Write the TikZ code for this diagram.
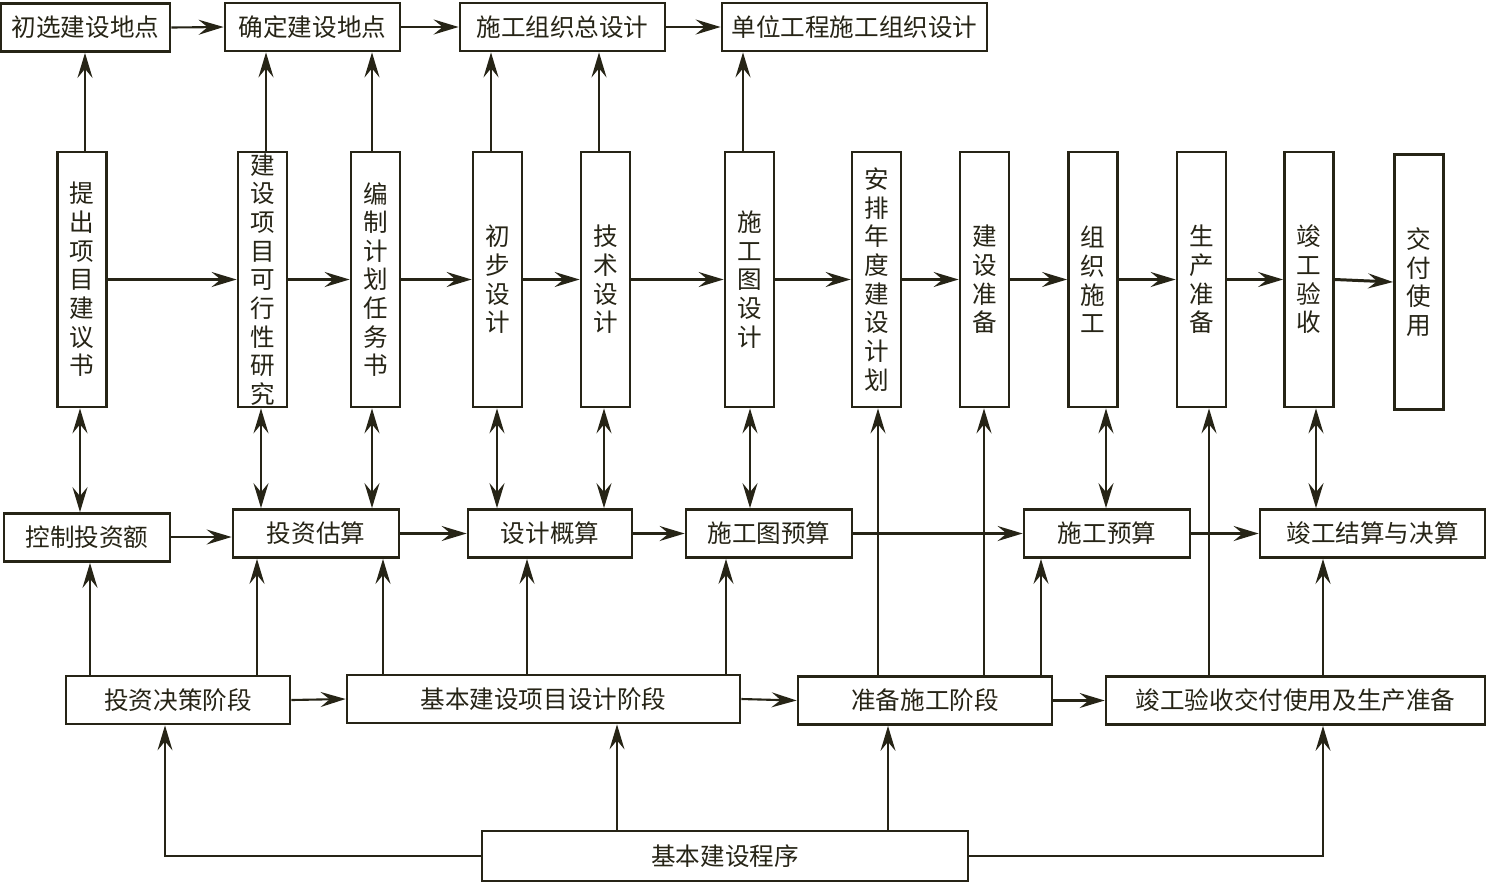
\documentclass[tikz,border=0pt]{standalone}
\usepackage{fontspec}
\setmainfont{Noto Sans CJK SC}
\usetikzlibrary{arrows.meta}
\definecolor{ink}{RGB}{38,36,22}
\begin{document}
\begin{tikzpicture}[x=0.02cm,y=-0.02cm,
  box/.style={draw=ink, line width=1.6pt, minimum height=0.96cm, inner sep=0pt, text=ink,
    font=\fontsize{14}{16}\selectfont},
  vbox/.style={box, minimum width=0.98cm, minimum height=5.1cm, align=center,
    font=\fontsize{14}{16.3}\selectfont},
  tip/.tip={Stealth[length=0.5cm,width=0.3cm,inset=0.18cm]},
  arr/.style={draw=ink, line width=1.2pt, -tip},
  darr/.style={draw=ink, line width=1.2pt, tip-tip},
  thin/.style={line width=0.8pt}]
\useasboundingbox[fill=white] (0,0) rectangle (1487,883);
% top row
\node[box,minimum width=3.38cm] (t1) at (85.5,27.5) {初选建设地点};
\node[box,minimum width=3.5cm] (t2) at (312.5,27) {确定建设地点};
\node[box,minimum width=4.1cm] (t3) at (562.5,27) {施工组织总设计};
\node[box,minimum width=5.3cm] (t4) at (854.5,27) {单位工程施工组织设计};
% vertical boxes
\node[vbox] (v1) at (82,279.5) {提\\出\\项\\目\\建\\议\\书};
\node[vbox] (v2) at (262.5,279.5) {建\\设\\项\\目\\可\\行\\性\\研\\究};
\node[vbox] (v3) at (375.5,279.5) {编\\制\\计\\划\\任\\务\\书};
\node[vbox] (v4) at (497.5,279.5) {初\\步\\设\\计};
\node[vbox] (v5) at (605.5,279.5) {技\\术\\设\\计};
\node[vbox] (v6) at (749.5,279.5) {施\\工\\图\\设\\计};
\node[vbox] (v7) at (876.5,279.5) {安\\排\\年\\度\\建\\设\\计\\划};
\node[vbox] (v8) at (984.5,279.5) {建\\设\\准\\备};
\node[vbox] (v9) at (1093,279.5) {组\\织\\施\\工};
\node[vbox] (v10) at (1201.5,279.5) {生\\产\\准\\备};
\node[vbox] (v11) at (1309,279.5) {竣\\工\\验\\收};
\node[vbox] (v12) at (1419,282) {交\\付\\使\\用};
% middle row
\node[box,minimum width=3.32cm] (m1) at (87,537.5) {控制投资额};
\node[box,minimum width=3.32cm] (m2) at (316,533.5) {投资估算};
\node[box,minimum width=3.28cm] (m3) at (550,533.5) {设计概算};
\node[box,minimum width=3.32cm] (m4) at (769,533.5) {施工图预算};
\node[box,minimum width=3.32cm] (m5) at (1107,533.5) {施工预算};
\node[box,minimum width=4.5cm] (m6) at (1372.5,533.5) {竣工结算与决算};
% phase row
\node[box,minimum width=4.48cm] (p1) at (178,700) {投资决策阶段};
\node[box,minimum width=7.86cm] (p2) at (543.5,699) {基本建设项目设计阶段};
\node[box,minimum width=5.08cm] (p3) at (925,700.5) {准备施工阶段};
\node[box,minimum width=7.58cm] (p4) at (1295.5,700.5) {竣工验收交付使用及生产准备};
% bottom
\node[box,minimum width=9.72cm,minimum height=1.0cm] (b) at (725,856) {基本建设程序};

% top connectors
\draw[arr,line width=1.5pt] (v1.north -| 85,0) -- (t1.south -| 85,0);
\draw[arr] (v2.north -| 266,0) -- (t2.south -| 266,0);
\draw[arr,line width=1.5pt] (v3.north -| 372,0) -- (t2.south -| 372,0);
\draw[arr] (v4.north -| 491,0) -- (t3.south -| 491,0);
\draw[arr] (v5.north -| 599,0) -- (t3.south -| 599,0);
\draw[arr,line width=1.5pt] (v6.north -| 743,0) -- (t4.south -| 743,0);
\draw[arr] (t1.east) -- (t2.west);
\draw[arr,line width=1.5pt] (t2.east) -- (t3.west);
\draw[arr,line width=1.5pt] (t3.east) -- (t4.west);
% vertical row chain
\draw[arr,line width=1.5pt] (v1.east) -- (v2.west);
\draw[arr,line width=1.5pt] (v2.east) -- (v3.west);
\draw[arr] (v3.east) -- (v4.west);
\draw[arr] (v4.east) -- (v5.west);
\draw[arr] (v5.east) -- (v6.west);
\draw[arr] (v6.east) -- (v7.west);
\draw[arr] (v7.east) -- (v8.west);
\draw[arr] (v8.east) -- (v9.west);
\draw[arr,line width=1.5pt] (v9.east) -- (v10.west);
\draw[arr] (v10.east) -- (v11.west);
\draw[arr,line width=1.7pt] (v11.east) -- (v12.west);
% double arrows
\draw[darr] (v1.south -| 80,0) -- (m1.north -| 80,0);
\draw[darr] (v2.south -| 261,0) -- (m2.north -| 261,0);
\draw[darr] (v3.south -| 372,0) -- (m2.north -| 372,0);
\draw[darr] (v4.south -| 497,0) -- (m3.north -| 497,0);
\draw[darr] (v5.south -| 604,0) -- (m3.north -| 604,0);
\draw[darr] (v6.south -| 750,0) -- (m4.north -| 750,0);
\draw[darr] (v9.south -| 1106,0) -- (m5.north -| 1106,0);
\draw[darr] (v11.south -| 1316,0) -- (m6.north -| 1316,0);
% middle chain
\draw[arr] (m1.east |- 0,537) -- (m2.west |- 0,537);
\draw[arr] (m2.east) -- (m3.west);
\draw[arr] (m3.east) -- (m4.west);
\draw[arr,line width=1.6pt] (m4.east) -- (m5.west);
\draw[arr,line width=1.6pt] (m5.east) -- (m6.west);
% phases up
\draw[arr] (p1.north -| 90,0) -- (m1.south -| 90,0);
\draw[arr] (p1.north -| 257,0) -- (m2.south -| 257,0);
\draw[arr,line width=1.5pt] (p2.north -| 383,0) -- (m2.south -| 383,0);
\draw[arr] (p2.north -| 527,0) -- (m3.south -| 527,0);
\draw[arr] (p2.north -| 726,0) -- (m4.south -| 726,0);
\draw[arr,line width=1.5pt] (p3.north -| 878,0) -- (v7.south -| 878,0);
\draw[arr,line width=1.5pt] (p3.north -| 984,0) -- (v8.south -| 984,0);
\draw[arr] (p3.north -| 1041,0) -- (m5.south -| 1041,0);
\draw[arr] (p4.north -| 1209,0) -- (v10.south -| 1209,0);
\draw[arr,line width=1.5pt] (p4.north -| 1323,0) -- (m6.south -| 1323,0);
% phase chain
\draw[arr] (p1.east) -- (p2.west);
\draw[arr] (p2.east) -- (p3.west);
\draw[arr] (p3.east) -- (p4.west);
% bottom
\draw[arr,thin] (b.west) -| (165,0 |- p1.south);
\draw[arr,thin] (b.north -| 617,0) -- (p2.south -| 617,0);
\draw[arr,thin] (b.north -| 888,0) -- (p3.south -| 888,0);
\draw[arr,thin] (b.east) -| (1323,0 |- p4.south);
\end{tikzpicture}
\end{document}
